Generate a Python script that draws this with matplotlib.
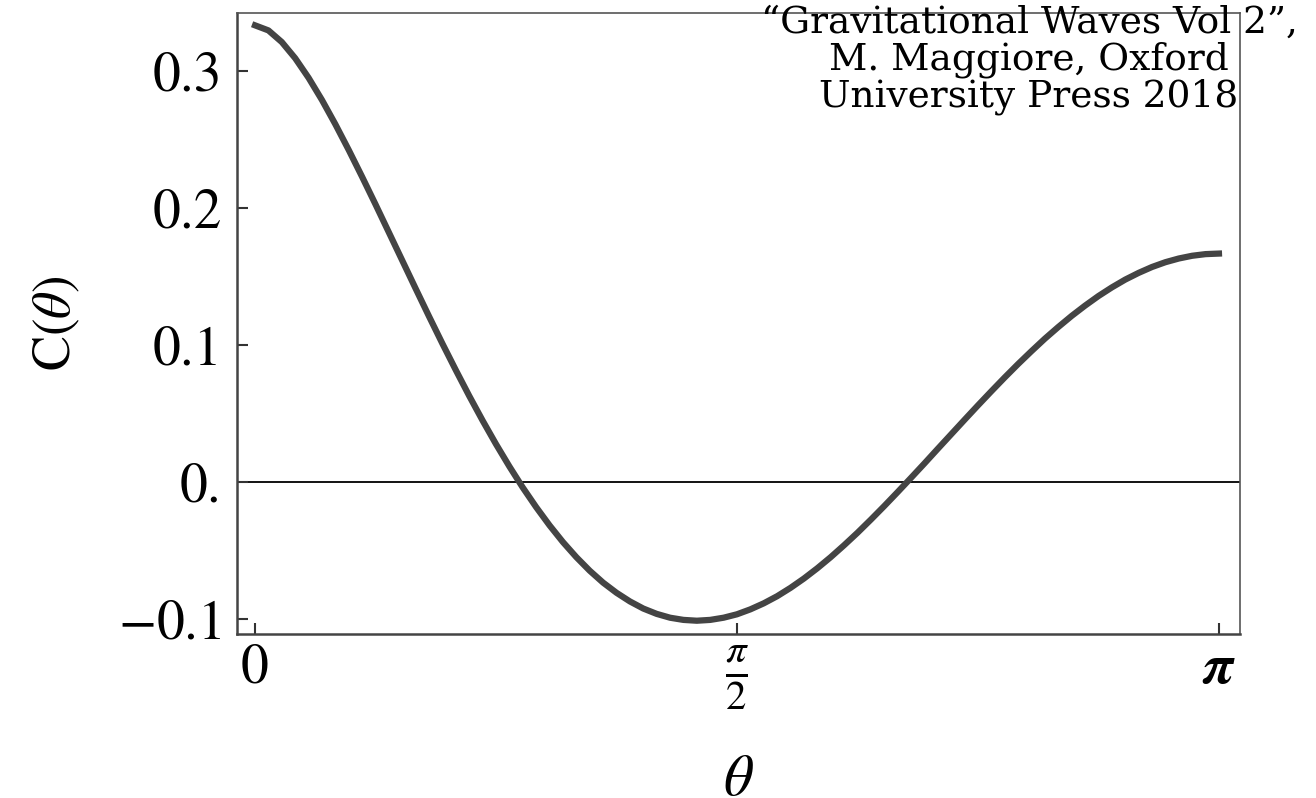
# Pulsar-timing correlation curve C(theta) versus angular separation

import numpy as np
import matplotlib.pyplot as plt

plt.rcParams['font.family'] = ['STIXGeneral', 'DejaVu Serif']
plt.rcParams['mathtext.fontset'] = 'stix'

# Angular separation in degrees (2.5 degree steps) and the correlation at each step
theta_deg = [0, 2.5, 5, 7.5, 10, 12.5, 15, 17.5, 20, 22.5, 25, 27.5, 30, 32.5, 35, 37.5,
             40, 42.5, 45, 47.5, 50, 52.5, 55, 57.5, 60, 62.5, 65, 67.5, 70, 72.5, 75,
             77.5, 80, 82.5, 85, 87.5, 90, 92.5, 95, 97.5, 100, 102.5, 105, 107.5, 110,
             112.5, 115, 117.5, 120, 122.5, 125, 127.5, 130, 132.5, 135, 137.5, 140,
             142.5, 145, 147.5, 150, 152.5, 155, 157.5, 160, 162.5, 165, 167.5, 170,
             172.5, 175, 177.5, 180]
corr = [0.3333, 0.3296, 0.3211, 0.3093, 0.2950, 0.2788, 0.2611, 0.2423, 0.2227, 0.2026,
        0.1821, 0.1616, 0.1411, 0.1208, 0.1009, 0.0816, 0.0628, 0.0448, 0.0276, 0.0113,
        -0.0041, -0.0184, -0.0317, -0.0439, -0.0549, -0.0648, -0.0735, -0.0809, -0.0872,
        -0.0924, -0.0963, -0.0991, -0.1007, -0.1013, -0.1007, -0.0991, -0.0966, -0.0930,
        -0.0886, -0.0834, -0.0773, -0.0705, -0.0630, -0.0549, -0.0462, -0.0371, -0.0275,
        -0.0176, -0.0074, 0.0030, 0.0135, 0.0242, 0.0348, 0.0454, 0.0559, 0.0662,
        0.0763, 0.0861, 0.0955, 0.1046, 0.1131, 0.1212, 0.1287, 0.1357, 0.1420, 0.1477,
        0.1526, 0.1569, 0.1604, 0.1631, 0.1651, 0.1663, 0.1667]

y_ticks = [-0.1, 0.0, 0.1, 0.2, 0.3]
y_tick_labels = ['$-$0.1', '0.', '0.1', '0.2', '0.3']
x_ticks = [0, np.pi / 2, np.pi]
x_tick_labels = ['0', r'$\frac{\pi}{2}$', r'$\boldsymbol{\pi}$']

theta = np.deg2rad(theta_deg)

fig = plt.figure(figsize=(13.16, 7.98), dpi=100)
ax = fig.add_axes([0.1801, 0.2055, 0.7621, 0.7782])

ax.axhline(0, color='black', lw=1.3, zorder=1)
ax.plot(theta, corr, color='#444444', lw=4.5, solid_joinstyle='round', zorder=2)

ax.set_xlim(-0.0587, np.pi + 0.0684)
ax.set_ylim(-0.111, 0.3423)

ax.set_yticks(y_ticks)
ax.set_yticklabels(y_tick_labels)
ax.set_xticks(x_ticks)
ax.set_xticklabels(x_tick_labels)
ax.tick_params(direction='in', length=8, width=1.5, labelsize=40, color='#333333')
ax.tick_params(axis='y', pad=11)
ax.tick_params(axis='x', pad=7)
ax.get_xticklabels()[1].set_fontsize(42)

for side in ['left', 'bottom']:
    ax.spines[side].set_linewidth(1.8)
    ax.spines[side].set_color('#444444')
for side in ['top', 'right']:
    ax.spines[side].set_linewidth(1.2)
    ax.spines[side].set_color('#555555')

ax.set_ylabel(r'C($\theta$)', fontsize=38, labelpad=26)
ax.set_xlabel(r'$\theta$', fontsize=42, labelpad=31)

fig.text(1029 / 1316, 0.994,
         '\u201cGravitational Waves Vol 2\u201d,\nM. Maggiore, Oxford\nUniversity Press 2018',
         ha='center', va='top', multialignment='center',
         fontsize=27, linespacing=1.03, family=['DejaVu Serif'])

fig.savefig('out.png', dpi=100)
